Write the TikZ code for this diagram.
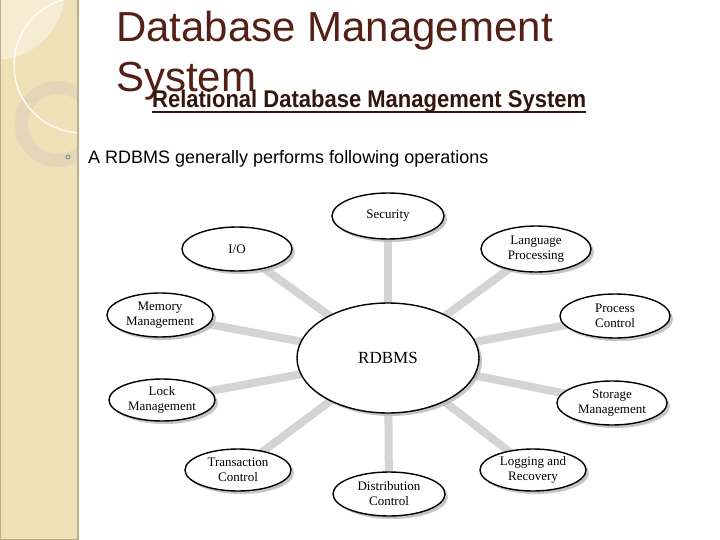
\documentclass[tikz,border=0pt]{standalone}
\usepackage{fontspec}
\setmainfont{Liberation Sans}
\newfontfamily\serifnode{Liberation Serif}
\usetikzlibrary{shapes.geometric,shadows,backgrounds}
\pgfdeclarelayer{bottom}
\pgfsetlayers{bottom,background,main}
\definecolor{titlebrown}{RGB}{84,32,22}
\definecolor{subbrown}{RGB}{50,22,14}
\definecolor{stripbeige}{RGB}{240,224,184}
\definecolor{stripedge}{RGB}{190,174,140}
\definecolor{lightcream}{RGB}{246,236,212}
\definecolor{ringcol}{RGB}{226,214,186}
\definecolor{linkgray}{RGB}{212,212,212}
\definecolor{bulletcol}{RGB}{110,135,125}
\tikzset{
  opnode/.style={ellipse, draw=black, line width=1.4pt, fill=white, inner sep=0pt,
    align=center, font=\serifnode\fontsize{13}{15}\selectfont,
    drop shadow={shadow xshift=3pt, shadow yshift=-3pt, fill=black!28, opacity=0.8}},
  link/.style={draw=linkgray, line width=8pt},
  txt/.style={inner sep=0pt, anchor=base west}
}
\begin{document}
\begin{tikzpicture}[x=1pt,y=-1pt]
\useasboundingbox (0,0) rectangle (720,540);
\begin{pgfonlayer}{bottom}
\fill[white] (0,0) rectangle (720,540);
% left strip
\begin{scope}
\clip (0,0) rectangle (78,540);
\fill[stripbeige] (0,0) rectangle (78,540);
\fill[lightcream] (-5,-10) circle[radius=70];
\draw[ringcol, line width=13pt, opacity=0.9] (58,124) circle[radius=36.5];
\draw[white, line width=1.5pt, opacity=0.85] (82,65) circle[radius=68];
\end{scope}
\draw[stripedge, line width=1.5pt] (78,0) -- (78,540);
\draw[stripedge, line width=1pt] (0.5,0) -- (0.5,539.5) -- (78,539.5);
\end{pgfonlayer}
% titles
\node[txt, text=titlebrown, font=\fontsize{42}{50}\selectfont] (t1) at (116,42) {Database Management};
\node[txt, text=titlebrown, font=\fontsize{42}{50}\selectfont] (t2) at (116,92) {System};
\node[txt, text=subbrown, font=\bfseries\fontsize{22}{26}\selectfont, yscale=1.1] (sub) at (152,108) {Relational Database Management System};
\draw[subbrown, line width=1.6pt] ([yshift=-4pt]sub.base west) -- ([yshift=-4pt]sub.base east);
\node[draw=bulletcol, circle, line width=0.7pt, inner sep=0pt, minimum size=4pt] (bul) at (68,157) {};
\node[txt, font=\fontsize{18}{22}\selectfont] (ops) at (88,164) {A RDBMS generally performs following operations};
% diagram
\node[opnode, minimum width=182pt, minimum height=110pt, font=\serifnode\fontsize{17}{20}\selectfont] (rdbms) at (388,358) {RDBMS};
\node[opnode, minimum width=112pt, minimum height=46pt] (sec) at (388,216) {Security};
\node[opnode, minimum width=110pt, minimum height=44pt] (io) at (237,249) {I/O};
\node[opnode, minimum width=110pt, minimum height=46pt] (lang) at (536,249) {Language\\Processing};
\node[opnode, minimum width=106pt, minimum height=44pt] (mem) at (160,315) {Memory\\Management};
\node[opnode, minimum width=110pt, minimum height=44pt] (proc) at (615,316) {Process\\Control};
\node[opnode, minimum width=106pt, minimum height=42pt] (lock) at (162,400) {Lock\\Management};
\node[opnode, minimum width=110pt, minimum height=44pt] (stor) at (612,403) {Storage\\Management};
\node[opnode, minimum width=106pt, minimum height=42pt] (trans) at (238,470) {Transaction\\Control};
\node[opnode, minimum width=106pt, minimum height=42pt] (log) at (533,470) {Logging and\\Recovery};
\node[opnode, minimum width=112pt, minimum height=44pt] (dist) at (389,494) {Distribution\\Control};
\begin{scope}[on background layer]
\foreach \n in {sec,io,lang,mem,proc,lock,stor,trans,log,dist}
  \draw[link] (rdbms.center) -- (\n.center);
\end{scope}
\end{tikzpicture}
\end{document}
